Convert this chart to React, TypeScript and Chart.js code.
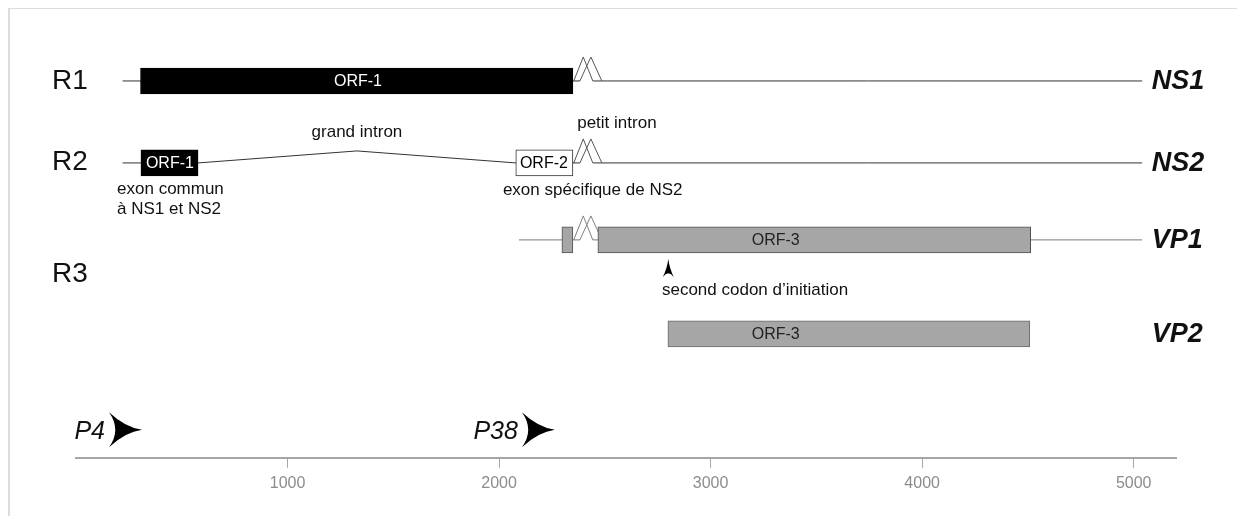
import React, { useEffect, useRef } from 'react';
import { Chart, registerables } from 'chart.js';

Chart.register(...registerables);

const FONT = "'Liberation Sans', Arial, Helvetica, sans-serif";

// ---------- horizontal axis (nucleotides) ----------
const xMin = 0;
const xMax = 5200;
const tickValues = [1000, 2000, 3000, 4000, 5000];

// ---------- vertical layout scale (reversed, arbitrary units) ----------
const yMax = 449;

// transcripts
const transcriptNames = ['NS1', 'NS2', 'VP1', 'VP2'];
const transcriptLevels = [72, 154, 231, 325];
const transcriptLabelX = 5085;

// RNA classes
const rowNames = ['R1', 'R2', 'R3'];
const rowLevels = [71, 152, 264];
const rowLabelX = -113;

// backbones of NS1, NS2, VP1 (nt)
const backboneStart = [220, 220, 2094];
const backboneEnd = [5040, 5040, 5040];

// small intron: two overlapping triangles (start A, start B, end A, end B) + apexes
const smallIntron = [2353, 2382, 2443, 2486];
const smallIntronApex = [2398, 2434];
const smallIntronHeight = 24;

// grand intron of NS2: donor, apex, acceptor
const grandIntron = [577, 1328, 2079];
const grandIntronApexLevel = 142;

// exons / ORFs
const boxStart = [305, 307, 2079, 2297, 2467, 2798];
const boxEnd = [2349, 577, 2349, 2349, 4513, 4509];
const boxTrack = [0, 1, 1, 2, 2, 3];
const boxLabel = ['ORF-1', 'ORF-1', 'ORF-2', '', 'ORF-3', 'ORF-3'];
const boxLabelX = [1333, 444, 2212, 0, 3308, 3308];

// promoters
const promoterNames = ['P4', 'P38'];
const promoterPos = [156, 2108];
const promoterLevel = 421;

// second initiation codon
const secondCodonPos = 2800;
const secondCodonLevel = 250;

// annotations
const noteTexts = [
  'grand intron',
  'petit intron',
  'exon commun',
  'à NS1 et NS2',
  'exon spécifique de NS2',
  'second codon d’initiation',
];
const noteX = [1328, 2557, 194, 194, 2018, 2770];
const noteY = [123, 114, 180, 200, 181, 281];
const noteAlign = ['center', 'center', 'left', 'left', 'left', 'left'];

// ---------- styles ----------
const boxFill = ['#000000', '#000000', '#ffffff', '#a6a6a6', '#a6a6a6', '#a6a6a6'];
const boxBorder = ['#000000', '#000000', '#333333', '#505050', '#505050', '#6a6a6a'];
const boxTextColor = ['#ffffff', '#ffffff', '#000000', '#222222', '#222222', '#222222'];
const backboneColor = ['#333333', '#333333', '#7a7a7a'];
const intronColor = ['#555555', '#555555', '#808080'];

function seg(points: { x: number; y: number }[], color: string) {
  return {
    type: 'line' as const,
    data: points,
    borderColor: color,
    borderWidth: 1,
    pointRadius: 0,
    pointHoverRadius: 0,
    fill: false,
    tension: 0,
    order: 2,
  };
}

function buildLineDatasets() {
  const ds: any[] = [];
  for (let t = 0; t < 3; t++) {
    const L = transcriptLevels[t];
    const c = backboneColor[t];
    if (t === 1) {
      ds.push(seg([{ x: backboneStart[t], y: L }, { x: grandIntron[0], y: L }], c));
      ds.push(
        seg(
          [
            { x: grandIntron[0], y: L },
            { x: grandIntron[1], y: grandIntronApexLevel },
            { x: grandIntron[2], y: L },
          ],
          c
        )
      );
      ds.push(seg([{ x: grandIntron[2], y: L }, { x: smallIntron[1], y: L }], c));
    } else {
      ds.push(seg([{ x: backboneStart[t], y: L }, { x: smallIntron[1], y: L }], c));
    }
    const ic = intronColor[t];
    ds.push(
      seg(
        [
          { x: smallIntron[0], y: L },
          { x: smallIntronApex[0], y: L - smallIntronHeight },
          { x: smallIntron[2], y: L },
        ],
        ic
      )
    );
    ds.push(
      seg(
        [
          { x: smallIntron[1], y: L },
          { x: smallIntronApex[1], y: L - smallIntronHeight },
          { x: smallIntron[3], y: L },
        ],
        ic
      )
    );
    ds.push(seg([{ x: smallIntron[2], y: L }, { x: backboneEnd[t], y: L }], c));
  }
  return ds;
}

function drawChevron(ctx: CanvasRenderingContext2D, x0: number, yc: number, w: number, h: number) {
  ctx.beginPath();
  ctx.moveTo(x0, yc - h / 2);
  ctx.quadraticCurveTo(x0 + w * 0.5, yc - h * 0.06, x0 + w, yc);
  ctx.quadraticCurveTo(x0 + w * 0.5, yc + h * 0.06, x0, yc + h / 2);
  ctx.quadraticCurveTo(x0 + w * 0.38, yc, x0, yc - h / 2);
  ctx.closePath();
  ctx.fill();
}

function drawUpArrow(ctx: CanvasRenderingContext2D, xc: number, yTip: number, w: number, h: number) {
  ctx.beginPath();
  ctx.moveTo(xc, yTip);
  ctx.quadraticCurveTo(xc - w * 0.12, yTip + h * 0.55, xc - w / 2, yTip + h);
  ctx.quadraticCurveTo(xc, yTip + h * 0.6, xc + w / 2, yTip + h);
  ctx.quadraticCurveTo(xc + w * 0.12, yTip + h * 0.55, xc, yTip);
  ctx.closePath();
  ctx.fill();
}

const annotPlugin = {
  id: 'genomeAnnotations',
  afterDatasetsDraw(chart: any) {
    const ctx: CanvasRenderingContext2D = chart.ctx;
    const xs = chart.scales.x;
    const ys = chart.scales.y;
    ctx.save();
    ctx.textBaseline = 'middle';

    // labels inside boxes
    ctx.font = `16px ${FONT}`;
    ctx.textAlign = 'center';
    boxLabel.forEach((lab, i) => {
      if (!lab) return;
      ctx.fillStyle = boxTextColor[i];
      ctx.fillText(lab, xs.getPixelForValue(boxLabelX[i]), ys.getPixelForValue(transcriptLevels[boxTrack[i]]) + 1);
    });

    // row labels
    ctx.font = `28px ${FONT}`;
    ctx.textAlign = 'left';
    ctx.fillStyle = '#111';
    rowNames.forEach((n, i) => {
      ctx.fillText(n, xs.getPixelForValue(rowLabelX), ys.getPixelForValue(rowLevels[i]) + 1);
    });

    // transcript names
    ctx.font = `italic bold 27px ${FONT}`;
    transcriptNames.forEach((n, i) => {
      ctx.fillText(n, xs.getPixelForValue(transcriptLabelX), ys.getPixelForValue(transcriptLevels[i]) + 1);
    });

    // notes
    ctx.font = `17px ${FONT}`;
    noteTexts.forEach((t, i) => {
      ctx.textAlign = noteAlign[i] as CanvasTextAlign;
      ctx.fillText(t, xs.getPixelForValue(noteX[i]), ys.getPixelForValue(noteY[i]));
    });

    // promoters
    ctx.font = `italic 25px ${FONT}`;
    ctx.textAlign = 'right';
    promoterNames.forEach((n, i) => {
      const px = xs.getPixelForValue(promoterPos[i]);
      const py = ys.getPixelForValue(promoterLevel);
      ctx.fillStyle = '#111';
      ctx.fillText(n, px - 4, py + 2);
      ctx.fillStyle = '#000';
      drawChevron(ctx, px, py, 33, 35);
    });

    // second initiation codon arrow
    ctx.fillStyle = '#000';
    drawUpArrow(ctx, xs.getPixelForValue(secondCodonPos), ys.getPixelForValue(secondCodonLevel), 11, 18);

    ctx.restore();
  },
};

export default function App() {
  const ref = useRef<HTMLCanvasElement>(null);

  useEffect(() => {
    if (!ref.current) return;
    const barDataset: any = {
      type: 'bar',
      indexAxis: 'y',
      data: boxStart.map((s, i) => ({ x: [s, boxEnd[i]], y: transcriptLevels[boxTrack[i]] })),
      backgroundColor: boxFill,
      borderColor: boxBorder,
      borderWidth: 1,
      borderSkipped: false,
      barThickness: 26,
      order: 0,
    };
    const chart = new Chart(ref.current, {
      type: 'line',
      data: { datasets: [barDataset, ...buildLineDatasets()] },
      options: {
        animation: false,
        responsive: true,
        maintainAspectRatio: false,
        events: [],
        layout: { padding: { left: 66, right: 61, top: 0, bottom: 25 } },
        plugins: { legend: { display: false }, tooltip: { enabled: false } },
        scales: {
          x: {
            type: 'linear',
            position: 'bottom',
            min: xMin,
            max: xMax,
            offset: false,
            afterBuildTicks: (s: any) => {
              s.ticks = tickValues.map((v) => ({ value: v }));
            },
            grid: { drawOnChartArea: false, drawTicks: true, tickLength: 10, color: '#a6a6a6', lineWidth: 1 },
            border: { display: true, color: '#a6a6a6', width: 2 },
            ticks: {
              color: '#8c8c8c',
              font: { family: FONT, size: 16 },
              padding: 6,
              maxRotation: 0,
              autoSkip: false,
              callback: (v: any) => String(v),
            },
          },
          y: { type: 'linear', display: false, min: 0, max: yMax, reverse: true, offset: false },
        },
      } as any,
      plugins: [annotPlugin],
    } as any);
    return () => chart.destroy();
  }, []);

  return (
    <div
      style={{
        width: 1229,
        height: 516,
        marginBottom: -8,
        boxSizing: 'border-box',
        borderTop: '1px solid #dcdcdc',
        borderLeft: '2px solid #dcdcdc',
        background: '#fff',
      }}
    >
      <div style={{ position: 'relative', width: '100%', height: '100%' }}>
        <canvas ref={ref} />
      </div>
    </div>
  );
}
